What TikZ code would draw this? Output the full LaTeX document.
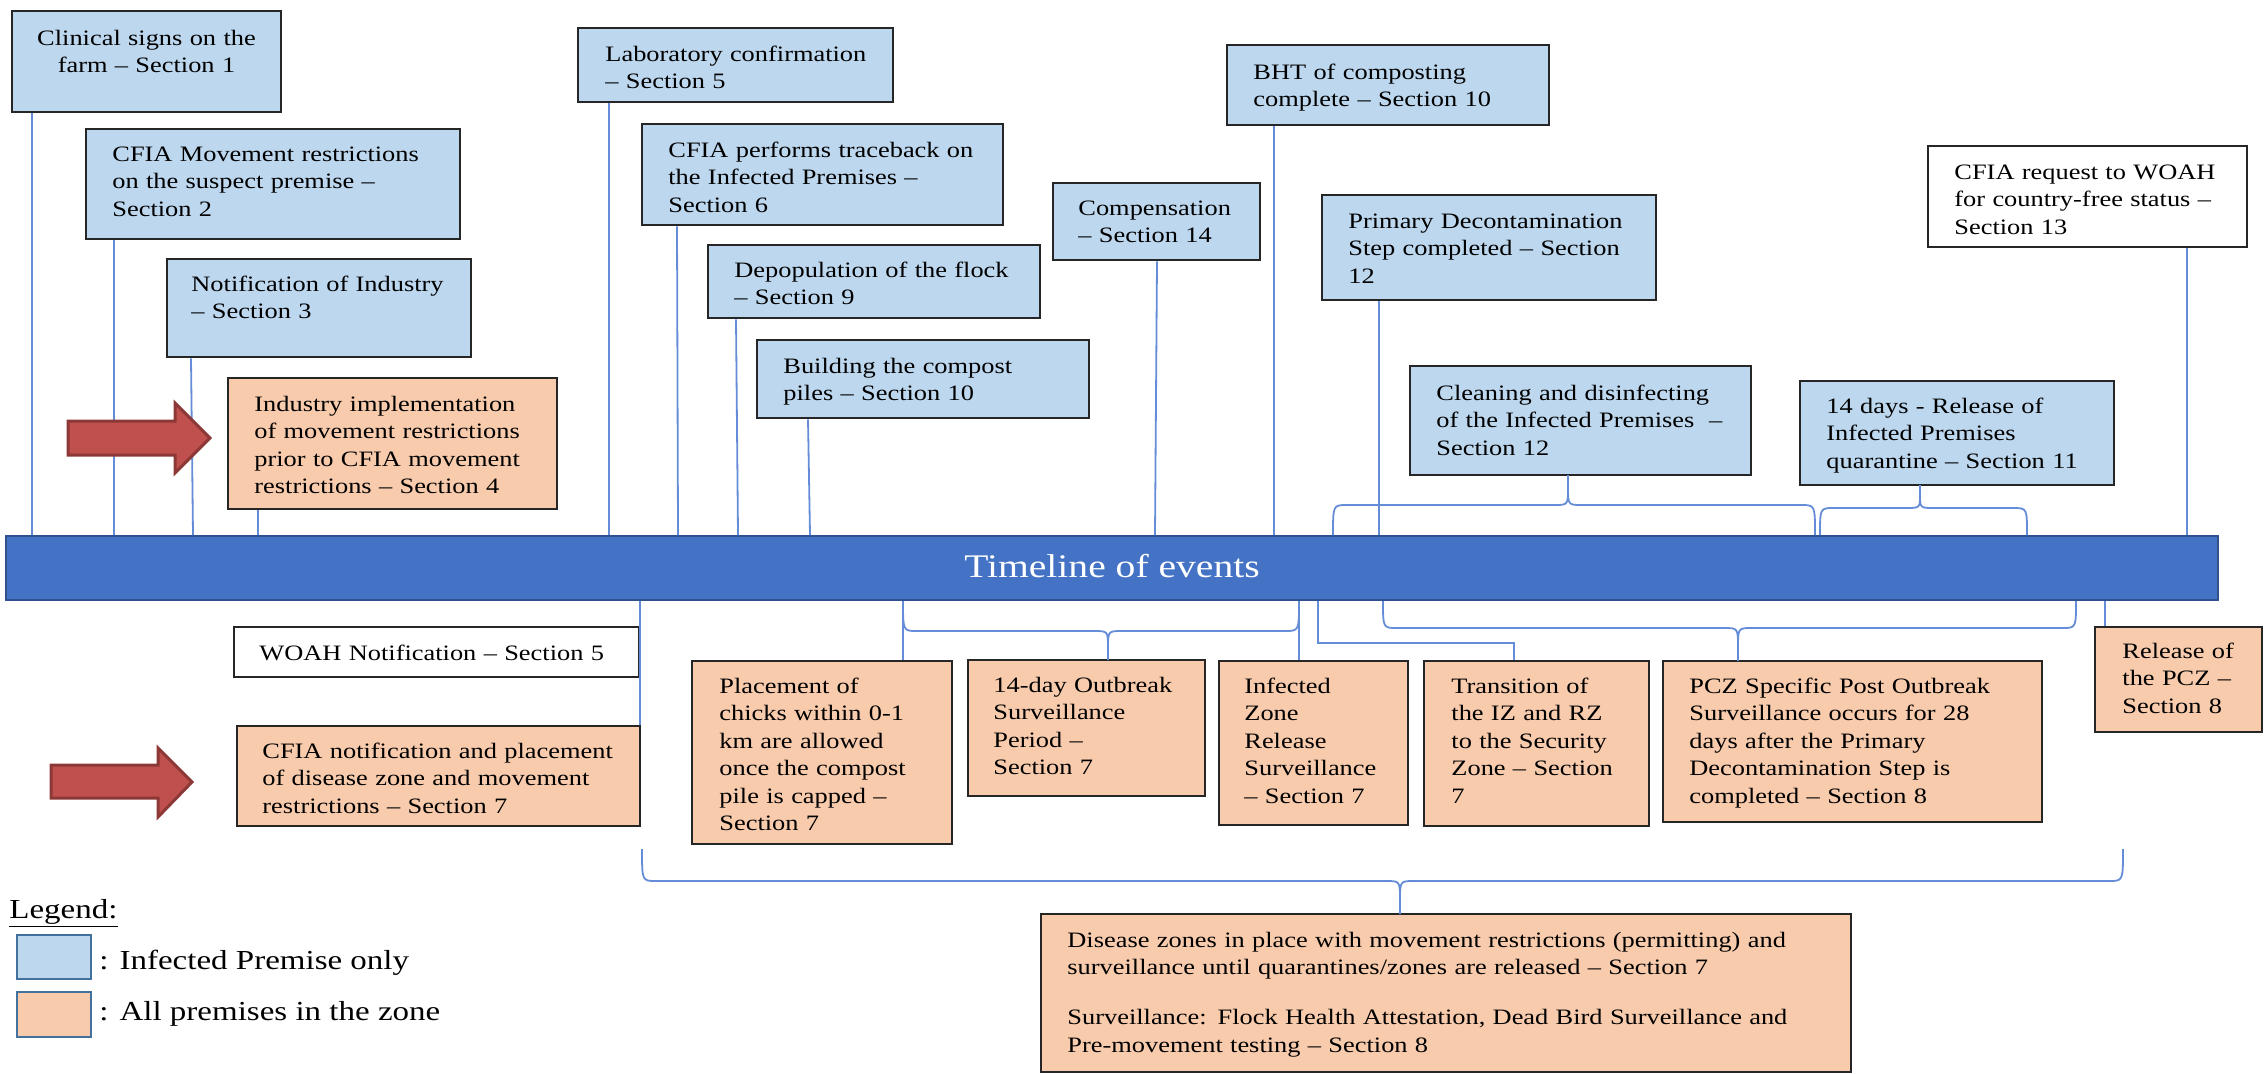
\documentclass[tikz,border=0pt]{standalone}
\usepackage{fontspec}
\setmainfont{Liberation Serif}[FakeStretch=1.2]
\usetikzlibrary{fit}
\definecolor{boxblue}{RGB}{189,215,238}
\definecolor{boxorange}{RGB}{248,203,173}
\definecolor{barblue}{RGB}{68,114,196}
\definecolor{baredge}{RGB}{47,82,143}
\definecolor{connblue}{RGB}{100,140,215}
\definecolor{arrowred}{RGB}{192,80,77}
\definecolor{arrowedge}{RGB}{140,56,54}
\definecolor{edgegray}{RGB}{38,38,38}
\definecolor{legedge}{RGB}{65,113,156}
\newcommand\bodyfont{\fontsize{11}{13.75}\selectfont}
\newcommand\legfont{\fontsize{13.75}{16}\selectfont}
% #1 xL, #2 xR, #3 xTip, #4 yEnds, #5 yH, #6 yTip
\newcommand\bracepath[6]{%
  \draw[conn] (#1,#4) .. controls (#1,#5) .. ({#1+14},#5) -- ({#3-14},#5) .. controls (#3,#5) .. (#3,{#5+0.6*(#6-#5)}) -- (#3,#6);
  \draw[conn] (#3,{#5+0.6*(#6-#5)}) .. controls (#3,#5) .. ({#3+14},#5) -- ({#2-14},#5) .. controls (#2,#5) .. (#2,#4);}
\begin{document}
\begin{tikzpicture}[x=0.5pt,y=-0.5pt,
  box/.style={draw=edgegray, line width=1.3pt, inner sep=0pt},
  bluebox/.style={box, fill=boxblue},
  orangebox/.style={box, fill=boxorange},
  whitebox/.style={box, fill=white},
  txt/.style={anchor=base west, inner sep=0pt, align=left, font=\bodyfont, text=black},
  conn/.style={draw=connblue, line width=0.9pt},
  bigarrow/.style={fill=arrowred, draw=arrowedge, line width=1.5pt, line join=miter},
  legbox/.style={draw=legedge, line width=1.3pt, inner sep=0pt},
]
\useasboundingbox (0,0) rectangle (2264,1073);

% ---------- timeline bar ----------
\node[fill=barblue, draw=baredge, line width=1pt, inner sep=0pt, fit={(6,536) (2218,600)}] (bar) {};
\node[anchor=base, inner sep=0pt, text=white, font=\fontsize{16.5}{20}\selectfont] (barT) at (1112,577) {Timeline of events};

% ---------- top boxes ----------
\node[bluebox, fit={(12,11) (281,112)}] (clin) {};
\node[txt, anchor=base, align=center, text width=134pt] (clinT) at (146.5,45) {Clinical signs on the\\farm – Section 1};

\node[bluebox, fit={(86,129) (460,239)}] (mov) {};
\node[txt, text width=184pt] (movT) at (112,161) {CFIA Movement restrictions\\on the suspect premise –\\Section 2};

\node[bluebox, fit={(167,259) (471,357)}] (notif) {};
\node[txt, text width=150pt] (notifT) at (191,291) {Notification of Industry\\– Section 3};

\node[orangebox, fit={(228,378) (557,509)}] (impl) {};
\node[txt, text width=162pt] (implT) at (254,411) {Industry implementation\\of movement restrictions\\prior to CFIA movement\\restrictions – Section 4};

\node[bluebox, fit={(578,28) (893,102)}] (lab) {};
\node[txt, text width=154pt] (labT) at (605,61) {Laboratory confirmation\\– Section 5};

\node[bluebox, fit={(642,124) (1003,225)}] (trace) {};
\node[txt, text width=178pt] (traceT) at (668,157) {CFIA performs traceback on\\the Infected Premises –\\Section 6};

\node[bluebox, fit={(708,245) (1040,318)}] (depop) {};
\node[txt, text width=163pt] (depopT) at (734,277) {Depopulation of the flock\\– Section 9};

\node[bluebox, fit={(757,340) (1089,418)}] (build) {};
\node[txt, text width=163pt] (buildT) at (783,373) {Building the compost\\piles – Section 10};

\node[bluebox, fit={(1053,183) (1260,260)}] (comp) {};
\node[txt, text width=101pt] (compT) at (1078,215) {Compensation\\– Section 14};

\node[bluebox, fit={(1227,45) (1549,125)}] (bht) {};
\node[txt, text width=158pt] (bhtT) at (1253,79) {BHT of composting\\complete – Section 10};

\node[bluebox, fit={(1322,195) (1656,300)}] (decon) {};
\node[txt, text width=164pt] (deconT) at (1348,228) {Primary Decontamination\\Step completed – Section\\12};

\node[bluebox, fit={(1410,366) (1751,475)}] (clean) {};
\node[txt, text width=168pt] (cleanT) at (1436,400) {Cleaning and disinfecting\\of the Infected Premises~ –\\Section 12};

\node[bluebox, fit={(1800,381) (2114,485)}] (relIP) {};
\node[txt, text width=154pt] (relIPT) at (1826,413) {14 days - Release of\\Infected Premises\\quarantine – Section 11};

\node[whitebox, fit={(1928,146) (2247,247)}] (req) {};
\node[txt, text width=157pt] (reqT) at (1954,179) {CFIA request to WOAH\\for country-free status –\\Section 13};

% ---------- top connectors ----------
\draw[conn] (32,0 |- clin.south) -- (32,0 |- bar.north);
\draw[conn] (114,0 |- mov.south) -- (114,0 |- bar.north);
\draw[conn] (191,0 |- notif.south) -- (193,0 |- bar.north);
\draw[conn] (258,0 |- impl.south) -- (258,0 |- bar.north);
\draw[conn] (609,0 |- lab.south) -- (609,0 |- bar.north);
\draw[conn] (677,0 |- trace.south) -- (678,0 |- bar.north);
\draw[conn] (736,0 |- depop.south) -- (738,0 |- bar.north);
\draw[conn] (808,0 |- build.south) -- (810,0 |- bar.north);
\draw[conn] (1157,0 |- comp.south) -- (1155,0 |- bar.north);
\draw[conn] (1274,0 |- bht.south) -- (1274,0 |- bar.north);
\draw[conn] (1379,0 |- decon.south) -- (1379,0 |- bar.north);
\draw[conn] (2187,0 |- req.south) -- (2187,0 |- bar.north);
\bracepath{1333}{1815}{1568}{535}{505}{475}
\bracepath{1820}{2027}{1920}{535}{508}{485}

% ---------- red arrows ----------
\draw[bigarrow] (68,421) -- (175,421) -- (175,403) -- (210,438) -- (175,473) -- (175,455) -- (68,455) -- cycle;
\draw[bigarrow] (51,765) -- (158,765) -- (158,748) -- (192,782) -- (158,817) -- (158,798) -- (51,798) -- cycle;

% ---------- bottom boxes ----------
\node[whitebox, fit={(234,627) (639,677)}] (woahN) {};
\node[txt, text width=200pt] (woahNT) at (259,660) {WOAH Notification – Section 5};

\node[orangebox, fit={(237,726) (640,826)}] (cfiaN) {};
\node[txt, text width=199pt] (cfiaNT) at (262,758) {CFIA notification and placement\\of disease zone and movement\\restrictions – Section 7};

\node[orangebox, fit={(692,661) (952,844)}] (place) {};
\node[txt, text width=127pt] (placeT) at (719,693) {Placement of\\chicks within 0-1\\km are allowed\\once the compost\\pile is capped –\\Section 7};

\node[orangebox, fit={(968,660) (1205,796)}] (outb) {};
\node[txt, text width=116pt] (outbT) at (993,692) {14-day Outbreak\\Surveillance\\Period –\\Section 7};

\node[orangebox, fit={(1219,661) (1408,825)}] (izr) {};
\node[txt, text width=92pt] (izrT) at (1244,693) {Infected\\Zone\\Release\\Surveillance\\– Section 7};

\node[orangebox, fit={(1424,661) (1649,826)}] (trans) {};
\node[txt, text width=109pt] (transT) at (1451,693) {Transition of\\the IZ and RZ\\to the Security\\Zone – Section\\7};

\node[orangebox, fit={(1663,661) (2042,822)}] (pcz) {};
\node[txt, text width=187pt] (pczT) at (1689,693) {PCZ Specific Post Outbreak\\Surveillance occurs for 28\\days after the Primary\\Decontamination Step is\\completed – Section 8};

\node[orangebox, fit={(2095,627) (2262,732)}] (relpcz) {};
\node[txt, text width=75pt] (relpczT) at (2122,658) {Release of\\the PCZ –\\Section 8};

\node[orangebox, fit={(1041,914) (1851,1072)}] (dis) {};
\node[txt, text width=392pt] (disT) at (1067,947) {Disease zones in place with movement restrictions (permitting) and\\surveillance until quarantines/zones are released – Section 7\\[11.25pt]Surveillance: Flock Health Attestation, Dead Bird Surveillance and\\Pre-movement testing – Section 8};

% ---------- bottom connectors ----------
\draw[conn] (640,0 |- bar.south) -- (640,0 |- cfiaN.north);
\draw[conn] (903,0 |- bar.south) -- (903,0 |- place.north);
\bracepath{903}{1299}{1108}{601}{631}{660}
\draw[conn] (1299,0 |- bar.south) -- (1299,0 |- izr.north);
\draw[conn] (1318,0 |- bar.south) -- (1318,643) -- (1514,643) -- (1514,0 |- trans.north);
\bracepath{1383}{2076}{1738}{601}{628}{661}
\draw[conn] (2105,0 |- bar.south) -- (2105,0 |- relpcz.north);
\bracepath{642}{2123}{1400}{849}{881}{914}

% ---------- legend ----------
\node[anchor=base west, inner sep=0pt, font=\legfont] (legT) at (9,918) {\underline{Legend:}};
\node[legbox, fill=boxblue, fit={(17,935) (91,979)}] (legB) {};
\node[anchor=base west, inner sep=0pt, font=\legfont] (legBT) at (99,969) {: Infected Premise only};
\node[legbox, fill=boxorange, fit={(17,992) (91,1037)}] (legO) {};
\node[anchor=base west, inner sep=0pt, font=\legfont] (legOT) at (99,1020) {: All premises in the zone};
\end{tikzpicture}
\end{document}
